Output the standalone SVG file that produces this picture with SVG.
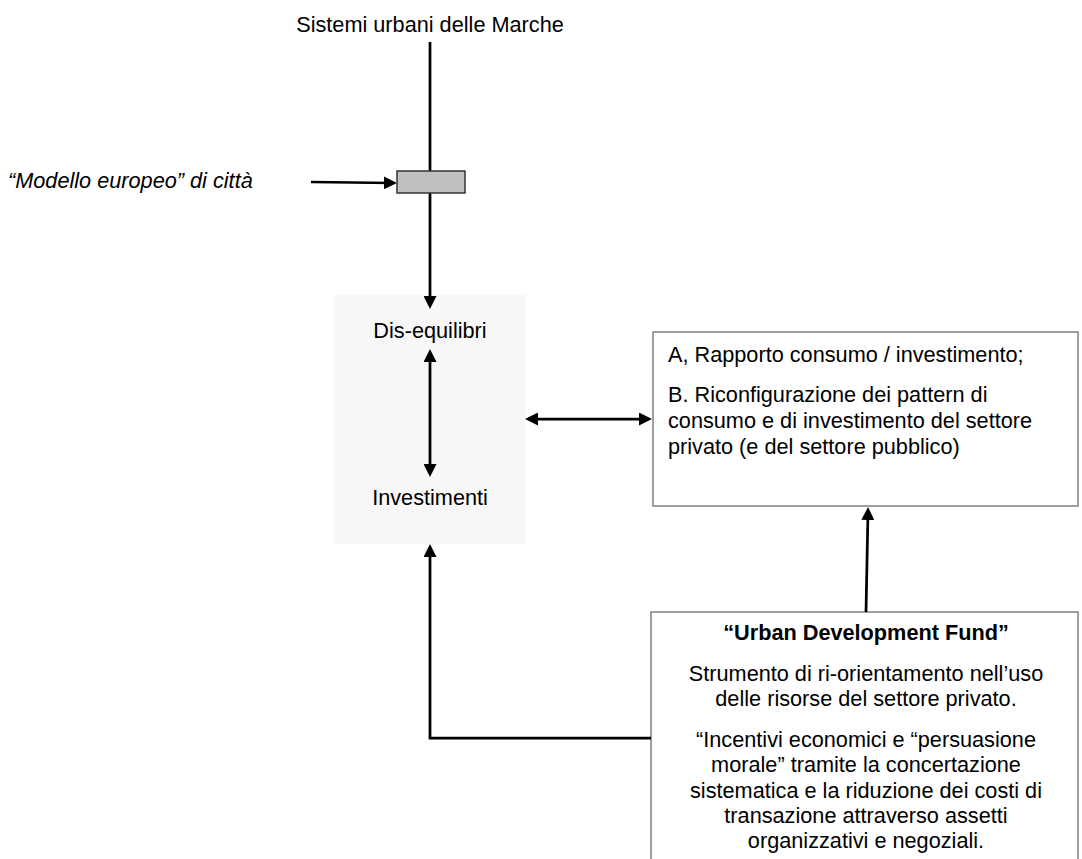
<svg xmlns="http://www.w3.org/2000/svg" width="1082" height="859" viewBox="0 0 1082 859">
<style>
text{font-family:"Liberation Sans",Arial,sans-serif;font-size:21.7px;fill:#000}
.c{text-anchor:middle}
.it{font-style:italic}
.b{font-weight:bold}
.box{fill:#fff;stroke:#808080;stroke-width:1.5}
.ln{fill:none;stroke:#000;stroke-width:2.75}
</style>
<defs>
<marker id="ah" viewBox="0 0 13 13" markerWidth="13" markerHeight="13" refX="9" refY="6.5" orient="auto-start-reverse" markerUnits="userSpaceOnUse">
<path d="M0,0 L13,6.5 L0,13 z" fill="#000"/>
</marker>
</defs>
<rect width="1082" height="859" fill="#fff"/>

<g id="title">
<text class="c" x="430" y="32">Sistemi urbani delle Marche</text>
</g>

<g id="modello">
<text class="it" x="8" y="188">“Modello europeo” di città</text>
</g>

<g id="panel">
<rect x="334" y="295" width="192" height="249" fill="#f7f7f7"/>
</g>

<g id="disequilibri">
<text class="c" x="430" y="338">Dis-equilibri</text>
</g>

<g id="investimenti">
<text class="c" x="430" y="505">Investimenti</text>
</g>

<g id="boxA">
<rect class="box" x="653" y="332" width="425" height="174"/>
<text x="668" y="362">A, Rapporto consumo / investimento;</text>
<text x="668" y="402">B. Riconfigurazione dei pattern di</text>
<text x="668" y="428">consumo e di investimento del settore</text>
<text x="668" y="454">privato (e del settore pubblico)</text>
</g>

<g id="udf">
<rect class="box" x="651" y="612" width="427" height="260"/>
<text class="c b" x="866" y="640">“Urban Development Fund”</text>
<text class="c" x="866" y="681">Strumento di ri-orientamento nell’uso</text>
<text class="c" x="866" y="706">delle risorse del settore privato.</text>
<text class="c" x="866" y="747">“Incentivi economici e “persuasione</text>
<text class="c" x="866" y="772">morale” tramite la concertazione</text>
<text class="c" x="866" y="798">sistematica e la riduzione dei costi di</text>
<text class="c" x="866" y="823">transazione attraverso assetti</text>
<text class="c" x="866" y="848">organizzativi e negoziali.</text>
</g>

<g id="connectors">
<line class="ln" x1="430" y1="42" x2="430" y2="171"/>
<line class="ln" x1="430" y1="193" x2="430" y2="305" marker-end="url(#ah)"/>
<line class="ln" x1="311" y1="182" x2="393" y2="183" marker-end="url(#ah)"/>
<line class="ln" x1="430" y1="353" x2="430" y2="473" marker-start="url(#ah)" marker-end="url(#ah)"/>
<line class="ln" x1="529" y1="419" x2="648" y2="419" marker-start="url(#ah)" marker-end="url(#ah)"/>
<line class="ln" x1="866" y1="612" x2="868" y2="511" marker-end="url(#ah)"/>
<polyline class="ln" points="651,738 430,738 430,548" marker-end="url(#ah)"/>
</g>

<g id="gate">
<rect x="397" y="171" width="68" height="22" fill="#c0c0c0" stroke="#333" stroke-width="1.5"/>
</g>
</svg>
